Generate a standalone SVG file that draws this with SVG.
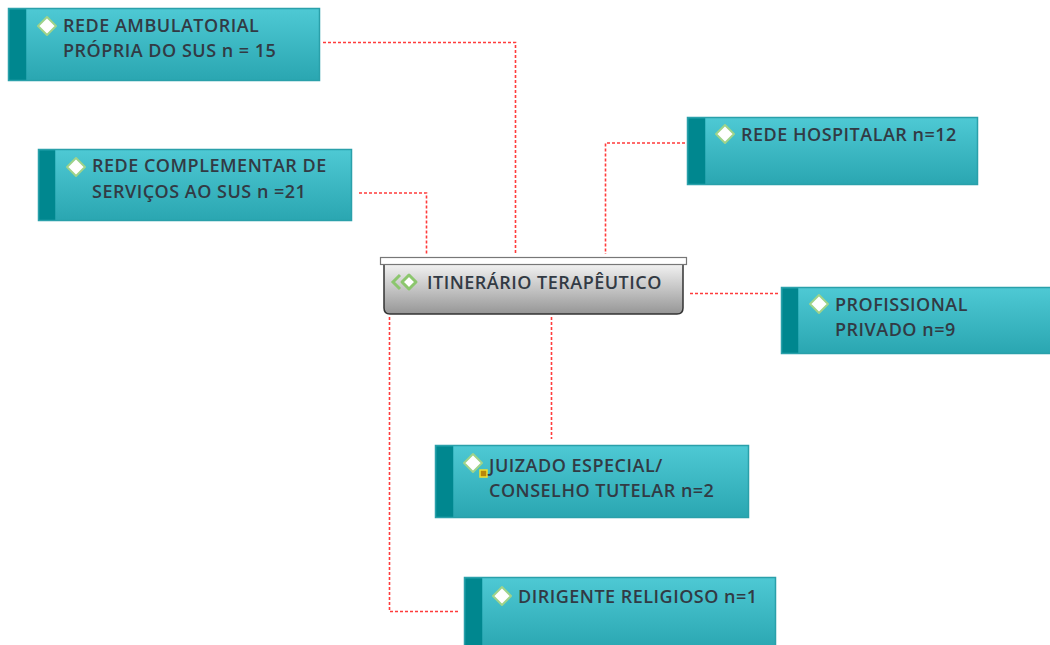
<svg xmlns="http://www.w3.org/2000/svg" width="1050" height="645" viewBox="0 0 1050 645">
<defs>
<linearGradient id="teal" x1="0" y1="0" x2="0" y2="1">
<stop offset="0" stop-color="#4ec9d4"/>
<stop offset="1" stop-color="#2aa6b1"/>
</linearGradient>
<linearGradient id="grey" x1="0" y1="0" x2="0" y2="1">
<stop offset="0" stop-color="#f2f2f2"/>
<stop offset="1" stop-color="#969696"/>
</linearGradient>
<g id="dia">
<path d="M0,-9 L9,0 L0,9 L-9,0 Z" fill="#ffffff" stroke="#9fd38a" stroke-width="2" stroke-linejoin="round"/>
</g>
</defs>
<style>
.box{fill:url(#teal);stroke:#2aa0aa;stroke-width:1.5}
.strip{fill:#00878f}
.t{font-family:"Open Sans","Noto Sans",sans-serif;font-size:18px;font-weight:600;letter-spacing:0.5px;fill:#323a44}
.c{fill:none;stroke:#ff3b3b;stroke-width:1.6;stroke-dasharray:3 2}
</style>
<rect width="1050" height="645" fill="#ffffff"/>
<g id="connectors">
<polyline class="c" points="323,42.5 515.5,42.5 515.5,255"/>
<polyline class="c" points="359,193 426.5,193 426.5,254"/>
<polyline class="c" points="685,143 605.5,143 605.5,254"/>
<polyline class="c" points="690,293.5 778,293.5"/>
<polyline class="c" points="551.5,317 551.5,439"/>
<polyline class="c" points="389.5,317 389.5,611.5 460,611.5"/>
</g>
<g id="center">
<path d="M384,264 H683 V308 Q683,314 677,314 H390 Q384,314 384,308 Z" fill="url(#grey)" stroke="#333" stroke-width="1.5"/>
<rect x="380.5" y="257.5" width="306" height="7" fill="#ffffff" stroke="#777" stroke-width="1.2"/>
<path d="M400,275 L393,282 L400,289" fill="none" stroke="#8cc66e" stroke-width="3"/>
<path d="M409,275 L402,282 L409,289 L416,282 Z" fill="#ffffff" stroke="#8cc66e" stroke-width="3" stroke-linejoin="round"/>
<text class="t" x="427" y="289">ITINERÁRIO TERAPÊUTICO</text>
</g>
<g id="n1">
<rect class="box" x="8.5" y="8.5" width="311" height="72"/>
<rect class="strip" x="9.25" y="9.25" width="17" height="70.5"/>
<use href="#dia" x="47" y="26"/>
<text class="t" x="63" y="32">REDE AMBULATORIAL</text>
<text class="t" x="63" y="57">PRÓPRIA DO SUS n = 15</text>
</g>
<g id="n2">
<rect class="box" x="38.5" y="149.5" width="313" height="71"/>
<rect class="strip" x="39.25" y="150.25" width="16" height="69.5"/>
<use href="#dia" x="76" y="167"/>
<text class="t" x="92" y="172">REDE COMPLEMENTAR DE</text>
<text class="t" x="92" y="198">SERVIÇOS AO SUS n =21</text>
</g>
<g id="n3">
<rect class="box" x="687.5" y="117.5" width="290" height="67"/>
<rect class="strip" x="688.25" y="118.25" width="17" height="65.5"/>
<use href="#dia" x="725" y="134"/>
<text class="t" x="741" y="141">REDE HOSPITALAR n=12</text>
</g>
<g id="n4">
<rect class="box" x="781.5" y="287.5" width="270" height="66"/>
<rect class="strip" x="782.25" y="288.25" width="16" height="64.5"/>
<use href="#dia" x="819" y="304"/>
<text class="t" x="835" y="311">PROFISSIONAL</text>
<text class="t" x="835" y="336">PRIVADO n=9</text>
</g>
<g id="n5">
<rect class="box" x="435.5" y="445.5" width="313" height="72"/>
<rect class="strip" x="436.25" y="446.25" width="17" height="70.5"/>
<use href="#dia" x="473" y="463"/>
<rect x="480" y="470" width="7" height="7" fill="#b8860b" stroke="#f0e030" stroke-width="1.5"/>
<text class="t" x="489" y="472">JUIZADO ESPECIAL/</text>
<text class="t" x="489" y="497">CONSELHO TUTELAR n=2</text>
</g>
<g id="n6">
<rect class="box" x="464.5" y="577.5" width="311" height="72"/>
<rect class="strip" x="465.25" y="578.25" width="17" height="70"/>
<use href="#dia" x="502" y="596"/>
<text class="t" x="518" y="603">DIRIGENTE RELIGIOSO n=1</text>
</g>
</svg>
